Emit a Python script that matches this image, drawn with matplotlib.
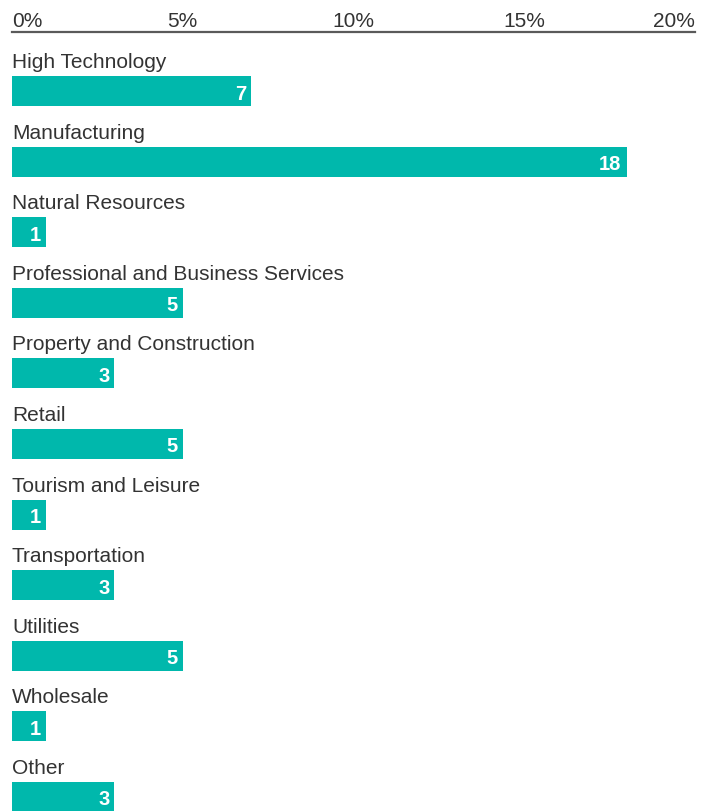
import matplotlib
matplotlib.use("Agg")
import matplotlib.pyplot as plt

categories = ["High Technology", "Manufacturing", "Natural Resources",
              "Professional and Business Services", "Property and Construction",
              "Retail", "Tourism and Leisure", "Transportation", "Utilities",
              "Wholesale", "Other"]
values = [7, 18, 1, 5, 3, 5, 1, 3, 5, 1, 3]
tick_vals = [0, 5, 10, 15, 20]
tick_labels = ["0%", "5%", "10%", "15%", "20%"]

W, H = 710, 812
fig = plt.figure(figsize=(W/100, H/100), dpi=100)
x0, x1 = 12, 695
y_top = 33
ax = fig.add_axes([x0/W, 0, (x1-x0)/W, (H-y_top)/H])

step = 70.6
c0 = 92
ax.set_xlim(0, 20)
ax.set_ylim((H - c0)/step, -(c0 - y_top)/step)

teal = "#00B8AC"
txt = "#333333"
font = "Liberation Sans"
bh = 30/step
ax.barh(range(len(values)), values, height=bh, color=teal, left=0)

for i, (cat, v) in enumerate(zip(categories, values)):
    ax.text(0, i - bh/2 - 9/step, cat, ha="left", va="baseline",
            fontsize=15, color=txt, family=font)
    ax.text(v - 0.15, i, str(v), ha="right", va="center_baseline",
            fontsize=14.5, color="white", fontweight="bold", family=font)

for s in ["right", "bottom", "left"]:
    ax.spines[s].set_visible(False)
ax.spines["top"].set_color("#5a5a5a")
ax.spines["top"].set_linewidth(1.6)
ax.xaxis.tick_top()
ax.set_xticks(tick_vals)
ax.set_xticklabels(tick_labels, fontsize=15, color=txt, family=font)
ax.tick_params(axis="x", length=0, pad=1.5)
for lab, tv in zip(ax.get_xticklabels(), tick_vals):
    if tv == 0:
        lab.set_ha("left")
    elif tv == 20:
        lab.set_ha("right")
ax.set_yticks([])
ax.patch.set_alpha(0)

fig.savefig("out.png", dpi=100)
